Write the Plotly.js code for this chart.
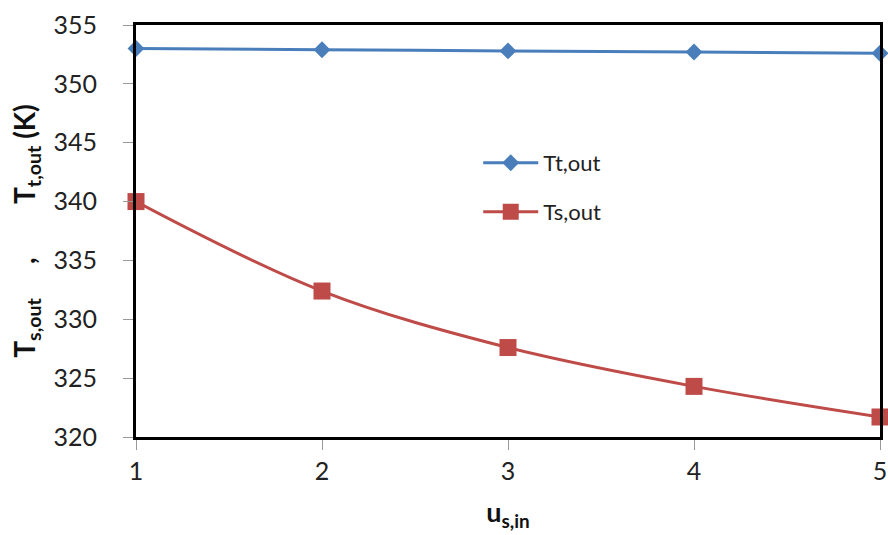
<!DOCTYPE html>
<html><head><meta charset="utf-8">
<script src="https://cdn.plot.ly/plotly-3.0.1.min.js"></script>
<style>body{margin:0;background:#fff}#c{width:888px;height:535px}</style>
</head><body><div id="c"></div>
<script>
const xVals = [1, 2, 3, 4, 5];
const ttOut = [353.0, 352.9, 352.8, 352.7, 352.6];
const tsOut = [340.0, 332.4, 327.6, 324.3, 321.7];
const seriesNames = ["Tt,out", "Ts,out"];
const xTicks = [1, 2, 3, 4, 5];
const yTicks = [320, 325, 330, 335, 340, 345, 350, 355];

const font = "Lato, 'Open Sans', sans-serif";
const traces = [
  {x: xVals, y: ttOut, name: seriesNames[0], mode: "lines+markers", legend: "legend",
   line: {color: "#4A7EBB", width: 3, shape: "spline"},
   marker: {symbol: "diamond", size: 13, color: "#4A7EBB"}, cliponaxis: false},
  {x: xVals, y: tsOut, name: seriesNames[1], mode: "lines+markers", legend: "legend2",
   line: {color: "#BE4B48", width: 3, shape: "spline"},
   marker: {symbol: "square", size: 17, color: "#BE4B48"}, cliponaxis: false}
];
const legBase = {bgcolor: "rgba(0,0,0,0)", font: {family: font, size: 22, color: "#222"}, xanchor: "left", yanchor: "middle", itemwidth: 55};
const layout = {
  width: 888, height: 535,
  margin: {l: 136, r: 8, t: 25, b: 98},
  paper_bgcolor: "#fff", plot_bgcolor: "#fff",
  showlegend: true,
  legend: Object.assign({}, legBase, {x: 0.46, y: (437 - 163) / 412}),
  legend2: Object.assign({}, legBase, {x: 0.46, y: (437 - 212) / 412}),
  xaxis: {range: [1, 5], tickvals: xTicks, ticks: "outside", ticklen: 10, tickcolor: "#999", tickwidth: 1,
    showline: true, linecolor: "#000", linewidth: 3, mirror: true, showgrid: false, zeroline: false,
    ticklabeloverflow: "allow", ticklabelstandoff: 0,
    tickfont: {family: font, size: 25, color: "#222"},
    title: {text: "<b>u<sub>s,in</sub></b>", font: {family: font, size: 27, color: "#111"}, standoff: 20}},
  yaxis: {range: [320, 355], tickvals: yTicks, ticks: "outside", ticklen: 10, tickcolor: "#999", tickwidth: 1,
    showline: true, linecolor: "#000", linewidth: 3, mirror: true, showgrid: false, zeroline: false,
    ticklabeloverflow: "allow", ticklabelstandoff: 21,
    tickfont: {family: font, size: 25, color: "#222"},
    title: {text: "<b>T<sub>s,out</sub>     ,        T<sub>t,out</sub> (K)</b>", font: {family: font, size: 28, color: "#111"}, standoff: 10}}
};
Plotly.newPlot("c", traces, layout, {displayModeBar: false});
</script></body></html>
